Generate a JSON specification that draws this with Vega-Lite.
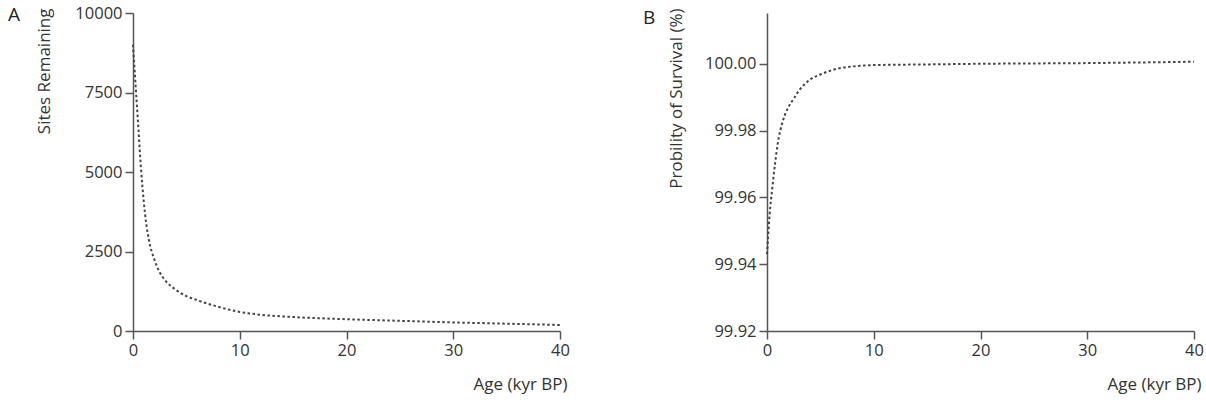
{
  "$schema": "https://vega.github.io/schema/vega-lite/v6.json",
  "background": "white",
  "padding": {"left": 8, "top": 5, "right": 0, "bottom": 8},
  "config": {
    "font": "Open Sans",
    "view": {"stroke": null},
    "axis": {
      "domainColor": "#555", "tickColor": "#555", "domainWidth": 1.5, "tickWidth": 1.5,
      "tickSize": 8, "labelFontSize": 16.5, "titleFontSize": 17, "labelColor": "#333",
      "titleColor": "#333", "grid": false, "titleFontWeight": "normal", "labelPadding": 3
    },
    "title": {"fontSize": 19, "fontWeight": "normal", "color": "#222", "anchor": "start", "frame": "group"}
  },
  "datasets": {
    "sites": [
      {"age": 0, "sites": 9000}, {"age": 0.25, "sites": 7700}, {"age": 0.5, "sites": 6400},
      {"age": 0.75, "sites": 5100}, {"age": 1, "sites": 4100}, {"age": 1.25, "sites": 3350},
      {"age": 1.5, "sites": 2850}, {"age": 2, "sites": 2250}, {"age": 2.5, "sites": 1850},
      {"age": 3, "sites": 1600}, {"age": 4, "sites": 1300}, {"age": 5, "sites": 1100},
      {"age": 6, "sites": 970}, {"age": 7, "sites": 860}, {"age": 8, "sites": 760},
      {"age": 10, "sites": 600}, {"age": 12, "sites": 510}, {"age": 15, "sites": 440},
      {"age": 20, "sites": 370}, {"age": 25, "sites": 320}, {"age": 30, "sites": 270},
      {"age": 35, "sites": 230}, {"age": 40, "sites": 190}
    ],
    "survival": [
      {"age": 0, "p": 99.943}, {"age": 0.25, "p": 99.955}, {"age": 0.5, "p": 99.963},
      {"age": 0.75, "p": 99.970}, {"age": 1, "p": 99.976}, {"age": 1.5, "p": 99.983},
      {"age": 2, "p": 99.987}, {"age": 2.5, "p": 99.9895}, {"age": 3, "p": 99.992},
      {"age": 3.5, "p": 99.9938}, {"age": 4, "p": 99.9952}, {"age": 5, "p": 99.9968},
      {"age": 6, "p": 99.998}, {"age": 7, "p": 99.9988}, {"age": 8, "p": 99.9992},
      {"age": 10, "p": 99.9996}, {"age": 15, "p": 99.9998}, {"age": 20, "p": 100.0},
      {"age": 25, "p": 100.0001}, {"age": 30, "p": 100.0002}, {"age": 35, "p": 100.0004},
      {"age": 40, "p": 100.0006}
    ]
  },
  "bounds": "flush",
  "spacing": 207,
  "hconcat": [
    {
      "width": 427, "height": 318,
      "title": {"text": "A", "offset": -20, "dx": -125},
      "data": {"name": "sites"},
      "mark": {"type": "line", "strokeDash": [2.5, 2.5], "strokeWidth": 2, "color": "#444", "interpolate": "monotone"},
      "encoding": {
        "x": {"field": "age", "type": "quantitative", "scale": {"domain": [0, 40], "nice": false},
          "axis": {"values": [0, 10, 20, 30, 40], "title": "Age (kyr BP)", "titleAlign": "right",
            "titleX": 434, "titleY": 58, "titleBaseline": "alphabetic", "labelFlush": false}},
        "y": {"field": "sites", "type": "quantitative", "scale": {"domain": [0, 10000], "nice": false},
          "axis": {"values": [0, 2500, 5000, 7500, 10000], "format": "d", "title": "Sites Remaining", "titleX": -80,
            "titleY": -5, "titleAngle": -90, "titleAlign": "right", "titleBaseline": "bottom", "labelFlush": false}}
      }
    },
    {
      "width": 427, "height": 318,
      "title": {"text": "B", "offset": -20, "dx": -124},
      "data": {"name": "survival"},
      "mark": {"type": "line", "strokeDash": [2.5, 2.5], "strokeWidth": 2, "color": "#444", "interpolate": "monotone"},
      "encoding": {
        "x": {"field": "age", "type": "quantitative", "scale": {"domain": [0, 40], "nice": false},
          "axis": {"values": [0, 10, 20, 30, 40], "title": "Age (kyr BP)", "titleAlign": "right",
            "titleX": 434, "titleY": 58, "titleBaseline": "alphabetic", "labelFlush": false}},
        "y": {"field": "p", "type": "quantitative", "scale": {"domain": [99.92, 100.0152], "nice": false, "zero": false},
          "axis": {"values": [99.92, 99.94, 99.96, 99.98, 100.0], "format": ".2f", "title": "Probility of Survival (%)",
            "titleX": -82, "titleY": -5, "titleAngle": -90, "titleAlign": "right", "titleBaseline": "bottom", "labelFlush": false}}
      }
    }
  ]
}
